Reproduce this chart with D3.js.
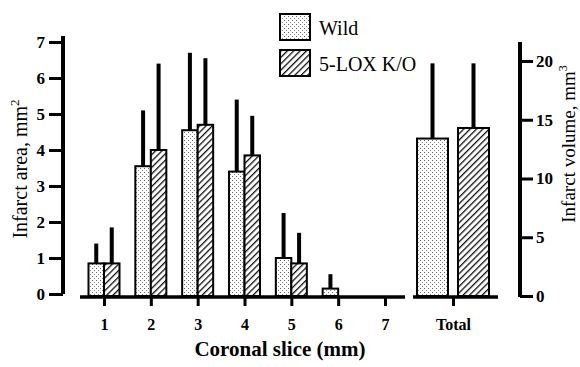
<!DOCTYPE html>
<meta charset="utf-8">
<body style="margin:0;background:#fff">
<script src="https://d3js.org/d3.v7.min.js"></script>
<script>

// data
var slices = ["1", "2", "3", "4", "5", "6", "7"];
var wildArea = [0.85, 3.55, 4.55, 3.4, 1.0, 0.15, 0];
var wildSD   = [0.55, 1.55, 2.15, 2.0, 1.25, 0.4, 0];
var koArea   = [0.85, 4.0, 4.7, 3.85, 0.85, 0, 0];
var koSD     = [1.0, 2.4, 1.85, 1.1, 0.85, 0, 0];
var totalVol = [13.4, 14.3];
var totalSD  = [6.4, 5.5];
var groups = ["Wild", "5-LOX K/O"];
var areaTicks = [0, 1, 2, 3, 4, 5, 6, 7];
var volTicks = [0, 5, 10, 15, 20];

var width = 580, height = 367;
var serif = "'Liberation Serif', 'Times New Roman', serif";

var svg = d3.select("body").append("svg")
    .attr("width", width)
    .attr("height", height)
    .style("font-family", serif);

// patterns for the two groups
var defs = svg.append("defs");
var dots = defs.append("pattern")
    .attr("id", "dots")
    .attr("patternUnits", "userSpaceOnUse")
    .attr("width", 4).attr("height", 4);
dots.append("rect").attr("width", 4).attr("height", 4).attr("fill", "#fff");
dots.append("rect").attr("x", 0).attr("y", 0).attr("width", 1).attr("height", 1).attr("fill", "#666");
dots.append("rect").attr("x", 2).attr("y", 2).attr("width", 1).attr("height", 1).attr("fill", "#888");

var hatch = defs.append("pattern")
    .attr("id", "hatch")
    .attr("patternUnits", "userSpaceOnUse")
    .attr("width", 4.5).attr("height", 4.5)
    .attr("patternTransform", "rotate(45)");
hatch.append("rect").attr("width", 4.5).attr("height", 4.5).attr("fill", "#fff");
hatch.append("line").attr("x1", 0).attr("y1", 0).attr("x2", 0).attr("y2", 4.5)
    .attr("stroke", "#111").attr("stroke-width", 2.6);

var fills = ["url(#dots)", "url(#hatch)"];

// scales
var x = d3.scalePoint().domain(slices).range([104, 385]);
var xTotal = d3.scalePoint().domain(["Total"]).range([453, 453]);
var yArea = d3.scaleLinear().domain([0, 7]).range([294, 42]);
var yVol = d3.scaleLinear().domain([0, 20]).range([296, 61]);
var barW = 15.5, totW = 31, totGap = 5;

// slice bars
var sliceData = [];
slices.forEach(function(s, i) {
  sliceData.push({x: x(s) - barW, w: barW, v: wildArea[i], sd: wildSD[i], g: 0});
  sliceData.push({x: x(s), w: barW, v: koArea[i], sd: koSD[i], g: 1});
});
sliceData = sliceData.filter(function(d) { return d.v > 0; });

var totalData = totalVol.map(function(v, i) {
  var c = xTotal("Total");
  return {x: i === 0 ? c - totGap - totW : c + totGap, w: totW, v: v, sd: totalSD[i], g: i};
});

function drawBars(data, y, base) {
  var g = svg.append("g");
  g.selectAll(".err")
      .data(data)
    .enter().append("line")
      .attr("x1", function(d) { return d.x + d.w / 2; })
      .attr("x2", function(d) { return d.x + d.w / 2; })
      .attr("y1", function(d) { return y(d.v); })
      .attr("y2", function(d) { return y(d.v + d.sd); })
      .attr("stroke", "#000")
      .attr("stroke-width", 4);
  g.selectAll(".bar")
      .data(data)
    .enter().append("rect")
      .attr("x", function(d) { return d.x; })
      .attr("y", function(d) { return y(d.v); })
      .attr("width", function(d) { return d.w; })
      .attr("height", function(d) { return base - y(d.v); })
      .attr("fill", function(d) { return fills[d.g]; })
      .attr("stroke", "#000")
      .attr("stroke-width", 2);
}
drawBars(sliceData, yArea, 296);
drawBars(totalData, yVol, 296);

// x axis lines (two segments)
var xAxis = svg.append("g")
    .attr("transform", "translate(0,297)")
    .call(d3.axisBottom(x).tickSize(9).tickSizeOuter(0).tickPadding(13));
var xAxis2 = svg.append("g")
    .attr("transform", "translate(0,297)")
    .call(d3.axisBottom(xTotal).tickSize(9).tickSizeOuter(0).tickPadding(13));
xAxis.select(".domain").attr("d", "M80,0H405");
xAxis2.select(".domain").attr("d", "M413,0H498");
[xAxis, xAxis2].forEach(function(a) {
  a.select(".domain").attr("stroke-width", 3.5);
  a.selectAll(".tick line").attr("stroke-width", 3);
  a.selectAll(".tick text")
      .style("font-family", serif)
      .style("font-weight", "bold")
      .style("font-size", "16px")
      .attr("fill", "#000");
});

// left axis
var yAxisL = svg.append("g")
    .attr("transform", "translate(63,0)")
    .call(d3.axisLeft(yArea).tickValues(areaTicks).tickFormat(d3.format("d"))
      .tickSize(14).tickSizeOuter(0).tickPadding(4));
yAxisL.select(".domain").attr("d", "M0,36V294").attr("stroke-width", 4);

// right axis
var yAxisR = svg.append("g")
    .attr("transform", "translate(520,0)")
    .call(d3.axisRight(yVol).tickValues(volTicks).tickFormat(d3.format("d"))
      .tickSize(13).tickSizeOuter(0).tickPadding(3));
yAxisR.select(".domain").attr("d", "M0,42V297").attr("stroke-width", 4);

[yAxisL, yAxisR].forEach(function(a) {
  a.selectAll(".tick line").attr("stroke-width", 3);
  a.selectAll(".tick text")
      .style("font-family", serif)
      .style("font-weight", "bold")
      .style("font-size", "17px")
      .attr("fill", "#000");
});

// axis titles
svg.append("text")
    .attr("transform", "translate(27,169) rotate(-90)")
    .attr("text-anchor", "middle")
    .style("font-size", "20px")
    .html("Infarct area, mm<tspan dy='-8' font-size='13px'>2</tspan>");

svg.append("text")
    .attr("transform", "translate(575,144) rotate(-90)")
    .attr("text-anchor", "middle")
    .style("font-size", "19px")
    .html("Infarct volume, mm<tspan dy='-8' font-size='12px'>3</tspan>");

svg.append("text")
    .attr("x", 280)
    .attr("y", 356)
    .attr("text-anchor", "middle")
    .style("font-size", "21px")
    .style("font-weight", "bold")
    .text("Coronal slice (mm)");

// legend
var legend = svg.append("g");
groups.forEach(function(name, i) {
  var ly = 14 + i * 36;
  legend.append("rect")
      .attr("x", 280).attr("y", ly)
      .attr("width", 30).attr("height", 26)
      .attr("fill", fills[i])
      .attr("stroke", "#000")
      .attr("stroke-width", 2);
  legend.append("text")
      .attr("x", 319).attr("y", ly + 21)
      .style("font-size", "20px")
      .text(name);
});

</script>
</body>
